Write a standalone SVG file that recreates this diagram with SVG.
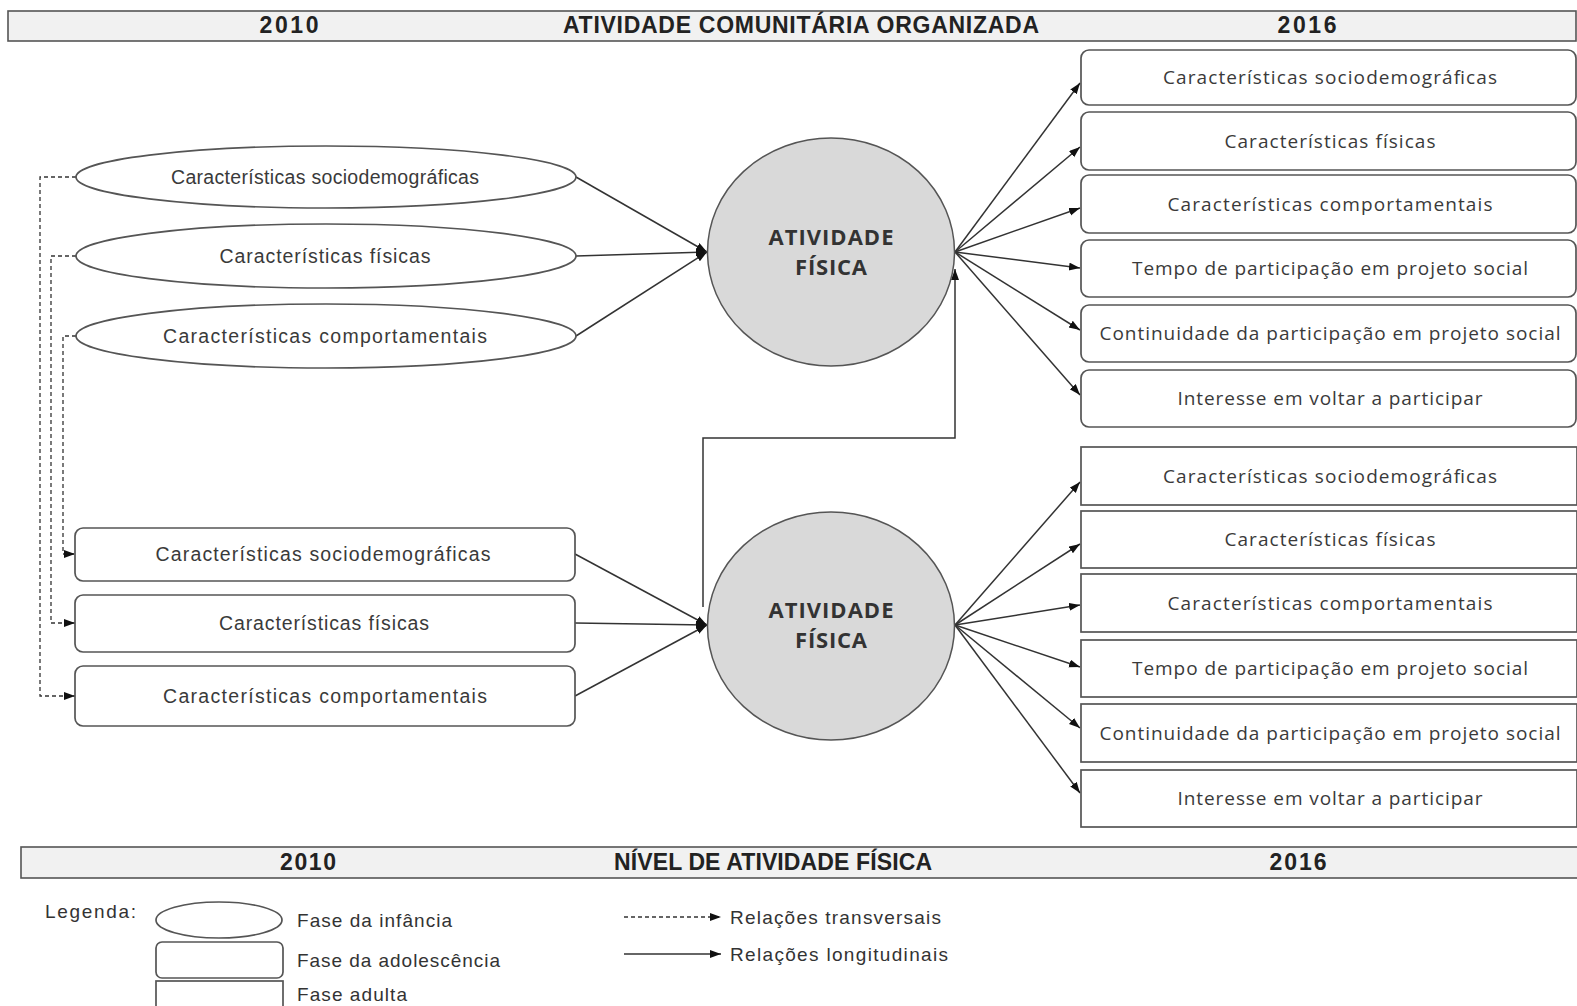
<svg xmlns="http://www.w3.org/2000/svg" width="1577" height="1006" viewBox="0 0 1577 1006">
<style>
.bar{fill:#f1f1f1;stroke:#555;stroke-width:1.6}
.hd{font-family:"Liberation Sans",Arial,sans-serif;font-weight:bold;font-size:23px;fill:#222;text-anchor:middle}
.nd{fill:#fff;stroke:#555;stroke-width:1.7}
.af{fill:#d9d9d9;stroke:#555;stroke-width:1.5}
.lt{font-family:"Liberation Sans",Arial,sans-serif;font-size:19.5px;fill:#3a3a3a;text-anchor:middle}
.rt{font-family:"Open Sans","Liberation Sans",sans-serif;font-size:19px;fill:#3a3a3a;text-anchor:middle}
.ct{font-family:"Open Sans","Liberation Sans",sans-serif;font-weight:bold;font-size:22px;fill:#333;text-anchor:middle}
.lg{font-family:"Liberation Sans",Arial,sans-serif;font-size:19px;fill:#333}
.ln{fill:none;stroke:#333;stroke-width:1.5}
.ds{fill:none;stroke:#333;stroke-width:1.3;stroke-dasharray:4 3}
</style>
<defs>
<marker id="ah" markerWidth="12" markerHeight="10" refX="11" refY="4" orient="auto" markerUnits="userSpaceOnUse"><path d="M0,0 L11,4 L0,8 z" fill="#111"/></marker>
</defs>

<g id="header-top">
<rect class="bar" x="8" y="11" width="1568" height="30"/>
<text class="hd" x="289" y="33" textLength="59">2010</text>
<text class="hd" x="801" y="33" textLength="476">ATIVIDADE COMUNITÁRIA ORGANIZADA</text>
<text class="hd" x="1307" y="33" textLength="59">2016</text>
</g>

<g id="connectors">
<path class="ds" d="M76 177 H40 V696 H75" marker-end="url(#ah)"/>
<path class="ds" d="M76 256 H51 V623 H75" marker-end="url(#ah)"/>
<path class="ds" d="M76 336 H63 V554 H75" marker-end="url(#ah)"/>
<path class="ln" d="M576 177 L707 252" marker-end="url(#ah)"/>
<path class="ln" d="M576 256 L707 252" marker-end="url(#ah)"/>
<path class="ln" d="M576 336 L707 252" marker-end="url(#ah)"/>
<path class="ln" d="M575 554 L707 625" marker-end="url(#ah)"/>
<path class="ln" d="M575 623 L707 625" marker-end="url(#ah)"/>
<path class="ln" d="M575 696 L707 625" marker-end="url(#ah)"/>
<path class="ln" d="M703 607 V438 H955 V269" marker-end="url(#ah)"/>
<path class="ln" d="M955 252 L1080 83" marker-end="url(#ah)"/>
<path class="ln" d="M955 252 L1080 147" marker-end="url(#ah)"/>
<path class="ln" d="M955 252 L1080 208" marker-end="url(#ah)"/>
<path class="ln" d="M955 252 L1080 268" marker-end="url(#ah)"/>
<path class="ln" d="M955 252 L1080 330" marker-end="url(#ah)"/>
<path class="ln" d="M955 252 L1080 395" marker-end="url(#ah)"/>
<path class="ln" d="M955 625 L1080 482" marker-end="url(#ah)"/>
<path class="ln" d="M955 625 L1080 544" marker-end="url(#ah)"/>
<path class="ln" d="M955 625 L1080 605" marker-end="url(#ah)"/>
<path class="ln" d="M955 625 L1080 667" marker-end="url(#ah)"/>
<path class="ln" d="M955 625 L1080 728" marker-end="url(#ah)"/>
<path class="ln" d="M955 625 L1080 793" marker-end="url(#ah)"/>
</g>

<g id="child-socio"><ellipse class="nd" cx="326" cy="177" rx="250" ry="31"/><text class="lt" x="325" y="183.5" textLength="308">Características sociodemográficas</text></g>
<g id="child-fisicas"><ellipse class="nd" cx="326" cy="256" rx="250" ry="32"/><text class="lt" x="325" y="262.5" textLength="211">Características físicas</text></g>
<g id="child-comport"><ellipse class="nd" cx="326" cy="336" rx="250" ry="32"/><text class="lt" x="325" y="342.5" textLength="324">Características comportamentais</text></g>

<g id="adol-socio"><rect class="nd" x="75" y="528" width="500" height="53" rx="8"/><text class="lt" x="323" y="561" textLength="335">Características sociodemográficas</text></g>
<g id="adol-fisicas"><rect class="nd" x="75" y="595" width="500" height="57" rx="8"/><text class="lt" x="324" y="630" textLength="210">Características físicas</text></g>
<g id="adol-comport"><rect class="nd" x="75" y="666" width="500" height="60" rx="8"/><text class="lt" x="325" y="702.5" textLength="324">Características comportamentais</text></g>

<g id="af-top"><ellipse class="af" cx="831" cy="252" rx="123.5" ry="114"/><text class="ct" x="831" y="245" textLength="125">ATIVIDADE</text><text class="ct" x="831" y="275" textLength="72">FÍSICA</text></g>
<g id="af-bottom"><ellipse class="af" cx="831" cy="626" rx="123.5" ry="114"/><text class="ct" x="831" y="618" textLength="125">ATIVIDADE</text><text class="ct" x="831" y="648" textLength="72">FÍSICA</text></g>

<g id="adu-a-socio"><rect class="nd" x="1081" y="50" width="495" height="55" rx="8"/><text class="rt" x="1330" y="84" textLength="334">Características sociodemográficas</text></g>
<g id="adu-a-fisicas"><rect class="nd" x="1081" y="112" width="495" height="58" rx="8"/><text class="rt" x="1330" y="147.5" textLength="211">Características físicas</text></g>
<g id="adu-a-comport"><rect class="nd" x="1081" y="175" width="495" height="58" rx="8"/><text class="rt" x="1330" y="210.5" textLength="325">Características comportamentais</text></g>
<g id="adu-a-tempo"><rect class="nd" x="1081" y="240" width="495" height="57" rx="8"/><text class="rt" x="1330" y="275" textLength="396">Tempo de participação em projeto social</text></g>
<g id="adu-a-cont"><rect class="nd" x="1081" y="305" width="495" height="57" rx="8"/><text class="rt" x="1330" y="340" textLength="461">Continuidade da participação em projeto social</text></g>
<g id="adu-a-int"><rect class="nd" x="1081" y="370" width="495" height="57" rx="8"/><text class="rt" x="1330" y="405" textLength="305">Interesse em voltar a participar</text></g>

<g id="adu-b-socio"><rect class="nd" x="1081" y="447" width="496" height="58"/><text class="rt" x="1330" y="482.5" textLength="334">Características sociodemográficas</text></g>
<g id="adu-b-fisicas"><rect class="nd" x="1081" y="511" width="496" height="57"/><text class="rt" x="1330" y="546" textLength="211">Características físicas</text></g>
<g id="adu-b-comport"><rect class="nd" x="1081" y="574" width="496" height="58"/><text class="rt" x="1330" y="609.5" textLength="325">Características comportamentais</text></g>
<g id="adu-b-tempo"><rect class="nd" x="1081" y="640" width="496" height="57"/><text class="rt" x="1330" y="675" textLength="396">Tempo de participação em projeto social</text></g>
<g id="adu-b-cont"><rect class="nd" x="1081" y="704" width="496" height="58"/><text class="rt" x="1330" y="739.5" textLength="461">Continuidade da participação em projeto social</text></g>
<g id="adu-b-int"><rect class="nd" x="1081" y="770" width="496" height="57"/><text class="rt" x="1330" y="805" textLength="305">Interesse em voltar a participar</text></g>

<g id="header-bottom">
<rect class="bar" x="21" y="847" width="1558" height="31"/>
<text class="hd" x="308" y="870" textLength="56">2010</text>
<text class="hd" x="773" y="870" textLength="318">NÍVEL DE ATIVIDADE FÍSICA</text>
<text class="hd" x="1298" y="870" textLength="57">2016</text>
</g>

<g id="legend">
<text class="lg" x="45" y="918" textLength="91">Legenda:</text>
<ellipse class="nd" cx="219" cy="920" rx="63" ry="18"/>
<rect class="nd" x="156" y="942" width="127" height="36" rx="6"/>
<rect class="nd" x="156" y="981" width="127" height="30"/>
<text class="lg" x="297" y="927" textLength="155">Fase da infância</text>
<text class="lg" x="297" y="967" textLength="203">Fase da adolescência</text>
<text class="lg" x="297" y="1001" textLength="110">Fase adulta</text>
<path class="ds" d="M624 917 H721" marker-end="url(#ah)"/>
<path class="ln" d="M624 954 H721" marker-end="url(#ah)"/>
<text class="lg" x="730" y="924" textLength="211">Relações transversais</text>
<text class="lg" x="730" y="961" textLength="218">Relações longitudinais</text>
</g>
</svg>
